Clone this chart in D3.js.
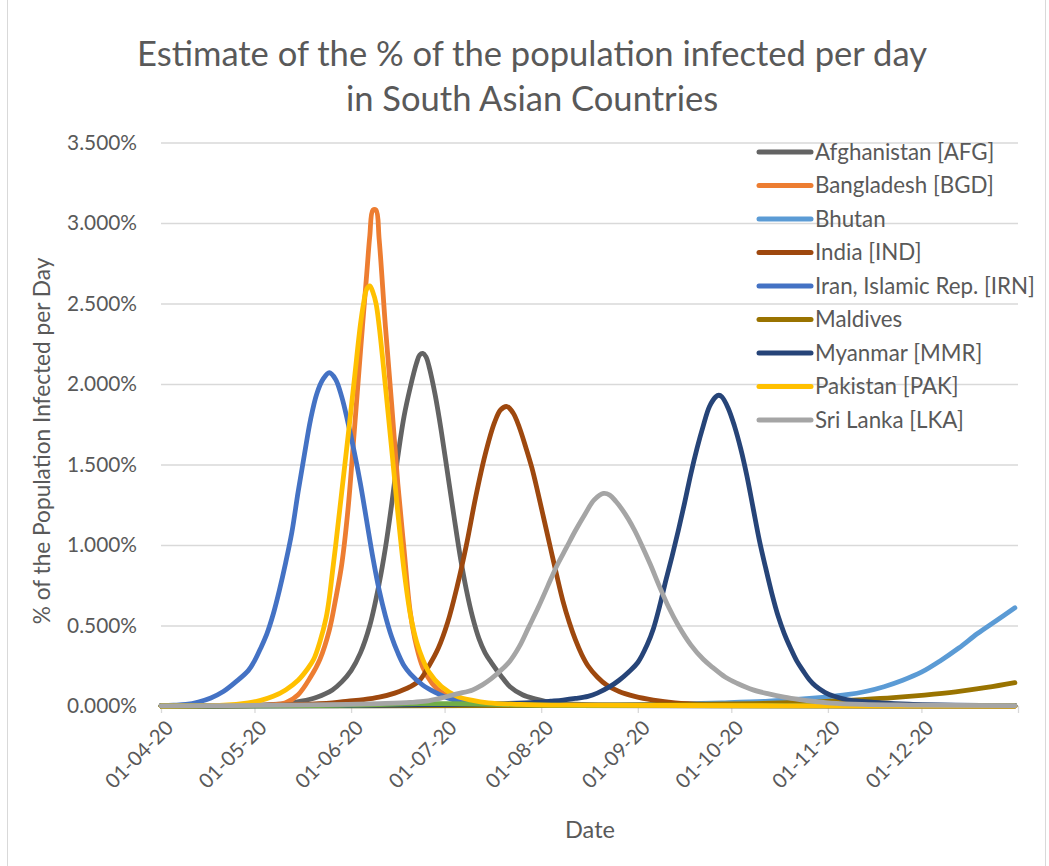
<!DOCTYPE html>
<html>
<head>
<meta charset="utf-8">
<script src="https://cdn.jsdelivr.net/npm/d3@7"></script>
<style>
  html, body { margin: 0; padding: 0; background: #fff; }
  svg { display: block; }
  text { font-family: Lato, "Open Sans", sans-serif; fill: #595959; }
</style>
</head>
<body>
<svg id="chart" width="1049" height="866"></svg>
<script>
// ---------------- DATA ----------------
// days are offsets from 1 April 2020; values are % of the population infected per day
const startDate = "2020-04-01";
const endDate = "2021-01-01";
const yTicks = [0, 0.5, 1.0, 1.5, 2.0, 2.5, 3.0, 3.5];
const xTickMonths = ["2020-04-01","2020-05-01","2020-06-01","2020-07-01","2020-08-01","2020-09-01","2020-10-01","2020-11-01","2020-12-01"];

const afghanistan = [[0,0],[30,0.005],[40,0.015],[45,0.03],[50,0.055],[55,0.1],[58,0.15],[61,0.22],[64,0.33],[67,0.5],[70,0.76],[72,0.98],[74,1.25],[76,1.55],[78,1.8],[80,1.98],[82,2.13],[83,2.18],[84,2.19],[85,2.17],[86,2.11],[88,1.93],[90,1.7],[92,1.44],[94,1.18],[96,0.93],[98,0.72],[100,0.55],[102,0.42],[104,0.33],[106,0.27],[109,0.19],[112,0.12],[116,0.07],[120,0.045],[126,0.02],[135,0.01],[150,0.005],[274,0]];
const bangladesh = [[0,0],[30,0.002],[36,0.008],[40,0.02],[44,0.07],[48,0.18],[51,0.29],[54,0.47],[56,0.66],[58,0.88],[60,1.22],[62,1.7],[64,2.2],[66,2.68],[67,2.92],[68,3.08],[69,3.08],[70,2.9],[72,2.36],[74,1.88],[76,1.38],[78,0.97],[80,0.58],[82,0.37],[84,0.24],[87,0.14],[90,0.085],[95,0.04],[100,0.02],[110,0.008],[130,0.003],[274,0]];
const bhutan = [[0,0],[100,0.002],[140,0.006],[160,0.01],[180,0.02],[195,0.03],[205,0.042],[213,0.055],[220,0.07],[226,0.09],[232,0.12],[238,0.16],[244,0.21],[250,0.28],[256,0.36],[262,0.45],[268,0.53],[274,0.61]];
const india = [[0,0],[30,0.003],[45,0.01],[55,0.02],[60,0.03],[65,0.04],[70,0.055],[75,0.08],[80,0.12],[83,0.16],[86,0.25],[89,0.36],[92,0.52],[95,0.74],[98,1.0],[101,1.3],[104,1.56],[107,1.76],[109,1.84],[111,1.86],[113,1.82],[115,1.73],[117,1.61],[119,1.48],[121,1.32],[123,1.15],[125,0.98],[127,0.81],[129,0.65],[131,0.52],[133,0.41],[135,0.32],[137,0.25],[140,0.18],[143,0.13],[147,0.09],[152,0.06],[158,0.037],[165,0.02],[175,0.01],[190,0.005],[274,0]];
const iran = [[0,0.002],[4,0.005],[8,0.01],[12,0.025],[16,0.05],[20,0.09],[24,0.15],[28,0.22],[30,0.28],[32,0.36],[34,0.45],[36,0.57],[38,0.72],[40,0.89],[42,1.08],[44,1.33],[46,1.56],[48,1.78],[50,1.94],[52,2.03],[54,2.07],[56,2.03],[58,1.92],[60,1.76],[62,1.58],[64,1.38],[66,1.15],[68,0.92],[70,0.72],[72,0.56],[74,0.43],[76,0.33],[78,0.25],[80,0.2],[84,0.13],[88,0.085],[92,0.05],[96,0.03],[100,0.018],[110,0.008],[130,0.003],[274,0.001]];
const maldives = [[0,0],[120,0.003],[160,0.008],[190,0.015],[205,0.022],[215,0.03],[225,0.04],[235,0.052],[245,0.068],[255,0.088],[265,0.115],[274,0.145]];
const myanmar = [[0,0],[60,0.002],[90,0.008],[110,0.015],[120,0.022],[125,0.03],[129,0.037],[133,0.047],[137,0.06],[140,0.08],[144,0.12],[147,0.16],[150,0.21],[153,0.27],[156,0.38],[158,0.48],[160,0.62],[162,0.78],[164,0.93],[166,1.09],[168,1.26],[170,1.44],[172,1.6],[174,1.74],[176,1.86],[178,1.92],[179,1.93],[180,1.92],[182,1.85],[184,1.74],[186,1.6],[188,1.43],[190,1.23],[192,1.03],[194,0.86],[196,0.7],[198,0.56],[200,0.45],[202,0.36],[204,0.28],[206,0.22],[208,0.165],[210,0.125],[213,0.085],[216,0.06],[220,0.04],[225,0.028],[231,0.02],[240,0.012],[255,0.006],[274,0.003]];
const nepal = [[0,0],[50,0.002],[60,0.005],[70,0.009],[78,0.013],[85,0.015],[92,0.015],[100,0.013],[110,0.009],[120,0.006],[135,0.003],[160,0.002],[274,0.001]];
const pakistan = [[0,0],[20,0.005],[28,0.02],[32,0.035],[36,0.06],[40,0.1],[44,0.16],[47,0.23],[49,0.29],[51,0.4],[53,0.55],[54,0.67],[55,0.83],[56,0.99],[58,1.33],[60,1.67],[62,2.02],[64,2.37],[65,2.5],[66,2.59],[67,2.61],[68,2.57],[69,2.5],[70,2.36],[72,1.99],[74,1.6],[76,1.2],[78,0.84],[80,0.57],[82,0.4],[84,0.29],[86,0.21],[90,0.12],[95,0.06],[100,0.035],[105,0.02],[115,0.01],[130,0.005],[274,0]];
const sriLanka = [[0,0.001],[40,0.005],[60,0.01],[70,0.015],[80,0.022],[85,0.03],[90,0.05],[95,0.075],[100,0.1],[103,0.13],[106,0.17],[109,0.22],[112,0.28],[115,0.37],[118,0.49],[121,0.61],[124,0.74],[127,0.87],[130,0.98],[133,1.09],[136,1.19],[139,1.28],[142,1.32],[144,1.31],[146,1.27],[148,1.22],[150,1.16],[152,1.09],[154,1.01],[157,0.88],[160,0.74],[163,0.61],[166,0.5],[170,0.38],[174,0.29],[177,0.24],[181,0.18],[185,0.14],[190,0.1],[195,0.075],[200,0.055],[205,0.04],[210,0.028],[215,0.018],[225,0.01],[240,0.006],[274,0.002]];

const seriesNames = ["Afghanistan [AFG]","Bangladesh [BGD]","Bhutan","India [IND]","Iran, Islamic Rep. [IRN]","Maldives","Myanmar [MMR]","Nepal","Pakistan [PAK]","Sri Lanka [LKA]"];
const seriesData = [afghanistan, bangladesh, bhutan, india, iran, maldives, myanmar, nepal, pakistan, sriLanka];
const seriesColors = ["#636363","#ED7D31","#5B9BD5","#9E480E","#4472C4","#997300","#264478","#70AD47","#FFC000","#A5A5A5"];
const legendNames = ["Afghanistan [AFG]","Bangladesh [BGD]","Bhutan","India [IND]","Iran, Islamic Rep. [IRN]","Maldives","Myanmar [MMR]","Pakistan [PAK]","Sri Lanka [LKA]"];

const titleLines = ["Estimate of the % of the population infected per day", "in South Asian Countries"];
const yTitle = "% of the Population Infected per Day";
const xTitle = "Date";

// ---------------- CHART ----------------
const svg = d3.select("#chart");
const parse = d3.utcParse("%Y-%m-%d");
const t0 = parse(startDate);
const dayToDate = d => d3.utcDay.offset(t0, d);

const plot = {left: 161, right: 1018, top: 142.5, bottom: 706};
const x = d3.scaleUtc().domain([t0, parse(endDate)]).range([plot.left, plot.right]);
const y = d3.scaleLinear().domain([0, 3.5]).range([plot.bottom, plot.top]);

function fitText(sel, target) {
  const w = sel.node().getComputedTextLength();
  const fs = parseFloat(sel.attr("font-size"));
  sel.attr("font-size", fs * target / w);
}

// chart border
svg.append("rect").attr("x", 7.5).attr("y", -2).attr("width", 1038).attr("height", 870)
  .attr("fill", "none").attr("stroke", "#D9D9D9").attr("stroke-width", 1);

// title
const title = svg.append("g");
const t1 = title.append("text").attr("x", 532).attr("y", 66).attr("text-anchor", "middle").attr("font-size", 30).text(titleLines[0]);
fitText(t1, 790);
const fsTitle = t1.attr("font-size");
title.append("text").attr("x", 532).attr("y", 111).attr("text-anchor", "middle").attr("font-size", fsTitle).text(titleLines[1]);

// gridlines + y axis labels
const yAxisG = svg.append("g").attr("transform", `translate(${plot.left},0)`)
  .call(d3.axisLeft(y).tickValues(yTicks).tickSize(-(plot.right - plot.left)).tickPadding(24)
    .tickFormat(d => d.toFixed(3) + "%"));
yAxisG.select(".domain").remove();
yAxisG.selectAll(".tick line").attr("stroke", "#D9D9D9").attr("stroke-width", 1.3);
yAxisG.selectAll(".tick text").attr("font-size", 20).attr("fill", "#595959")
  .style("font-family", "Lato, sans-serif");
{
  const probe = yAxisG.select(".tick text");
  const w = probe.node().getComputedTextLength();
  yAxisG.selectAll(".tick text").attr("font-size", 20 * 70 / w);
}

// x axis
const xTickDates = xTickMonths.map(parse);
const xAxisG = svg.append("g").attr("transform", `translate(0,${plot.bottom})`)
  .call(d3.axisBottom(x).tickValues(xTickDates.concat([parse(endDate)])).tickSize(7).tickSizeOuter(0)
    .tickFormat(d => +d === +parse(endDate) ? "" : d3.utcFormat("%d-%m-%y")(d)));
xAxisG.select(".domain").attr("stroke", "#D9D9D9").attr("stroke-width", 1.3);
xAxisG.selectAll(".tick line").attr("stroke", "#D9D9D9").attr("stroke-width", 1.3);
const xt = xAxisG.selectAll(".tick text")
  .attr("font-size", 20).attr("fill", "#595959").style("font-family", "Lato, sans-serif")
  .attr("text-anchor", "end").attr("dy", "0.35em")
  .attr("transform", "translate(8,18) rotate(-45)").attr("x", 0).attr("y", 0);
{
  const probe = xAxisG.select(".tick text");
  const w = probe.node().getComputedTextLength();
  xt.attr("font-size", 20 * 86 / w);
}

// axis titles
const yt = svg.append("text").attr("transform", "translate(50,441) rotate(-90)")
  .attr("text-anchor", "middle").attr("font-size", 20).text(yTitle);
fitText(yt, 367);
const xtt = svg.append("text").attr("x", 590).attr("y", 838).attr("text-anchor", "middle")
  .attr("font-size", 22).text(xTitle);
fitText(xtt, 50);

// lines
const line = d3.line()
  .x(d => x(dayToDate(d[0])))
  .y(d => y(d[1]))
  .curve(d3.curveCatmullRom.alpha(0.5));

svg.append("g").selectAll("path")
  .data(seriesData)
  .join("path")
  .attr("d", d => line(d))
  .attr("fill", "none")
  .attr("stroke", (d, i) => seriesColors[i])
  .attr("stroke-width", 4.8)
  .attr("stroke-linejoin", "round")
  .attr("stroke-linecap", "round");

// legend
const legend = svg.append("g");
const legRows = legendNames.map((n, i) => ({name: n, color: seriesColors[seriesNames.indexOf(n)], i}));
const rowY = i => 152 + i * 33.5;
legend.selectAll("line").data(legRows).join("line")
  .attr("x1", 759).attr("x2", 811)
  .attr("y1", d => rowY(d.i)).attr("y2", d => rowY(d.i))
  .attr("stroke", d => d.color).attr("stroke-width", 5).attr("stroke-linecap", "round");
const legTexts = legend.selectAll("text").data(legRows).join("text")
  .attr("x", 815).attr("y", d => rowY(d.i)).attr("dy", "0.35em")
  .attr("font-size", 20).text(d => d.name);
{
  const longest = legTexts.filter(d => d.name === "Iran, Islamic Rep. [IRN]");
  const w = longest.node().getComputedTextLength();
  legTexts.attr("font-size", 20 * 220 / w);
}
</script>
</body>
</html>
